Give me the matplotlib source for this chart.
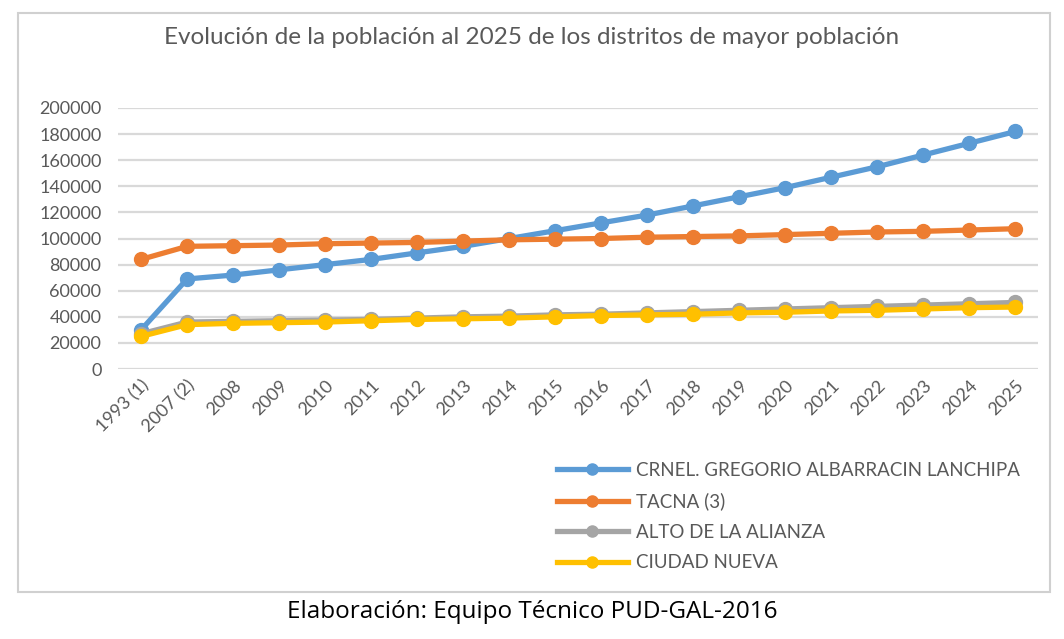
import matplotlib
matplotlib.use("Agg")
import matplotlib.pyplot as plt
from matplotlib.patches import Rectangle

plt.rcParams['font.family'] = ['Lato', 'DejaVu Sans']

years = ["1993 (1)", "2007 (2)", "2008", "2009", "2010", "2011", "2012", "2013",
         "2014", "2015", "2016", "2017", "2018", "2019", "2020", "2021", "2022",
         "2023", "2024", "2025"]

gregorio = [30000, 69000, 72000, 76000, 80000, 84000, 89000, 94000, 100000, 106000,
            112000, 118000, 125000, 132000, 139000, 147000, 155000, 164000, 173000, 182000]
tacna = [84000, 94000, 94500, 95000, 96000, 96500, 97000, 98000, 99000, 99500,
         100000, 101000, 101500, 102000, 103000, 104000, 105000, 105500, 106500, 107500]
alto = [27000, 36000, 36500, 37000, 37500, 38000, 39000, 40000, 40500, 41500,
        42000, 43000, 44000, 45000, 46000, 47000, 48000, 49000, 50000, 51000]
ciudad = [25000, 34000, 35000, 35500, 36000, 37000, 38000, 38500, 39000, 40000,
          41000, 41500, 42000, 43000, 43500, 44500, 45000, 46000, 47000, 47500]

series = [
    ("CRNEL. GREGORIO ALBARRACIN LANCHIPA", gregorio, "#5B9BD5"),
    ("TACNA (3)", tacna, "#ED7D31"),
    ("ALTO DE LA ALIANZA", alto, "#A5A5A5"),
    ("CIUDAD NUEVA", ciudad, "#FFC000"),
]

fig = plt.figure(figsize=(10.64, 6.39), dpi=100)
fig.patches.append(Rectangle((18 / 1064, 1 - 592 / 639), 1032 / 1064, 579 / 639,
                             transform=fig.transFigure, fill=False,
                             edgecolor="#D0D0D0", linewidth=1.5))

ax = fig.add_axes([0.111, 0.4225, 0.865, 0.4085])
x = range(len(years))
for name, vals, col in series:
    ax.plot(x, vals, color=col, linewidth=3.8, marker="o", markersize=10, label=name)

ax.set_xlim(-0.5, len(years) - 0.5)
ax.set_ylim(0, 200000)
ax.set_yticks(range(0, 200001, 20000))
ax.set_xticks(list(x))
ax.set_xticklabels(years, rotation=45, ha="right", rotation_mode="anchor")
ax.tick_params(axis="both", length=0, colors="#595959", labelsize=13)
ax.tick_params(axis="x", pad=6)
ax.tick_params(axis="y", pad=12)
ax.grid(axis="y", color="#D9D9D9", linewidth=1.6)
ax.set_axisbelow(True)
for s in ax.spines.values():
    s.set_visible(False)

fig.text(0.5, 1 - 38 / 639, "Evolución de la población al 2025 de los distritos de mayor población",
         ha="center", va="center", fontsize=17.5, color="#595959")

leg = fig.legend(loc="upper left", bbox_to_anchor=(553 / 1064, 1 - 458 / 639),
                 frameon=False, fontsize=13.5, handlelength=3.8, handletextpad=0.4,
                 labelspacing=0.72, borderpad=0.2, borderaxespad=0,
                 labelcolor="#595959", markerscale=0.8)

fig.text(0.5, 1 - 612 / 639, "Elaboración: Equipo Técnico PUD-GAL-2016",
         ha="center", va="center", fontsize=17.5, color="black", family=["Open Sans", "DejaVu Sans"])

fig.savefig("out.png", dpi=100, facecolor="white")
